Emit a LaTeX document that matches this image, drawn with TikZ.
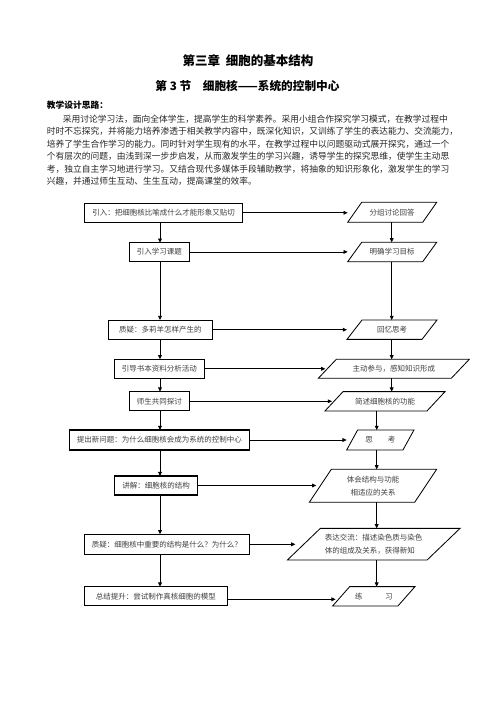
\documentclass[tikz,border=0pt]{standalone}
\usepackage{fontspec}
\setmainfont{Noto Sans CJK SC}
\usetikzlibrary{arrows.meta,calc}
\XeTeXlinebreaklocale "zh"
\XeTeXlinebreakskip=0pt plus 2pt minus 1pt
\newdimen\px \px=1.2pt
\newcommand\drawpara[2]{\draw[paraline] ([xshift=#2\px]#1.north west) -- (#1.north east) -- ([xshift=-#2\px]#1.south east) -- (#1.south west) -- cycle;}
\begin{document}
\begin{tikzpicture}[x=1.2pt,y=-1.2pt,
  box/.style={draw, line width=1.3pt, outer sep=0pt, inner sep=0pt, font=\fontsize{9pt}{11pt}\selectfont, text=black!75},
  para/.style={draw=none, outer sep=0pt, inner sep=0pt, font=\fontsize{9pt}{11pt}\selectfont, text=black!75},
  paraline/.style={line width=1pt, line join=miter},
  arr/.style={line width=0.9pt, -{Triangle[length=5pt,width=4.5pt]}},
  bodyline/.style={anchor=west, inner sep=0pt, font=\fontsize{10.5pt}{12pt}\selectfont, text=black!85}]
\useasboundingbox[fill=white] (0,0) rectangle (496,702);

% titles
\node[font=\fontsize{15pt}{18pt}\selectfont\bfseries] (T1) at (248,60.7) {第三章\hspace{0.45em}细胞的基本结构};
\node[font=\fontsize{14pt}{17pt}\selectfont\bfseries] (T2) at (247.5,86) {第 3 节\quad 细胞核——系统的控制中心};
\node[bodyline, font=\fontsize{10.5pt}{12pt}\selectfont\bfseries, text=black] (H) at (46.7,105) {教学设计思路：};

% body text
\node[bodyline] (L1) at (62.7,119) {\hbox to 386.6\px{采用讨论学习法，面向全体学生，提高学生的科学素养。采用小组合作探究学习模式，在教学过程中}};
\node[bodyline] (L2) at (46.7,131.5) {\hbox to 403.6\px{时时不忘探究，并将能力培养渗透于相关教学内容中，既深化知识，又训练了学生的表达能力、交流能力，}};
\node[bodyline] (L3) at (46.7,144) {\hbox to 402.6\px{培养了学生合作学习的能力。同时针对学生现有的水平，在教学过程中以问题驱动式展开探究，通过一个}};
\node[bodyline] (L4) at (46.7,156.5) {\hbox to 402.6\px{个有层次的问题，由浅到深一步步启发，从而激发学生的学习兴趣，诱导学生的探究思维，使学生主动思}};
\node[bodyline] (L5) at (46.7,169) {\hbox to 402.6\px{考，独立自主学习地进行学习。又结合现代多媒体手段辅助教学，将抽象的知识形象化，激发学生的学习}};
\node[bodyline] (L6) at (46.7,181.5) {兴趣，并通过师生互动、生生互动，提高课堂的效率。};

% left boxes
\node[box, minimum width=158.4\px, minimum height=19\px] (B1) at (163.5,212.8) {引入：把细胞核比喻成什么才能形象又贴切};
\node[box, minimum width=60\px, minimum height=18.3\px] (B2) at (159.3,251.9) {引入学习课题};
\node[box, minimum width=104\px, minimum height=19.3\px] (B3) at (160.3,329.7) {质疑：多莉羊怎样产生的};
\node[box, minimum width=90\px, minimum height=19\px] (B4) at (159.3,368.8) {引导书本资料分析活动};
\node[box, minimum width=60\px, minimum height=19.3\px] (B5) at (159.3,401.3) {师生共同探讨};
\node[box, minimum width=180\px, minimum height=20\px] (B6) at (159.3,440) {提出新问题：为什么细胞核会成为系统的控制中心};
\node[box, minimum width=83.4\px, minimum height=19\px] (B7) at (156,485.5) {讲解：细胞核的结构};
\node[box, minimum width=165\px, minimum height=20\px] (B8) at (166.8,544.3) {质疑：细胞核中重要的结构是什么？为什么？};
\node[box, minimum width=143\px, minimum height=19.3\px] (B9) at (155.8,596.3) {总结提升：尝试制作真核细胞的模型};

% right parallelograms
\node[para, minimum width=89\px, minimum height=20\px] (P1) at (392.2,212.3) {分组讨论回答};
\node[para, minimum width=89\px, minimum height=19.4\px] (P2) at (392.2,252) {明确学习目标};
\node[para, minimum width=90\px, minimum height=19.3\px] (P3) at (392,329.7) {回忆思考};
\node[para, minimum width=151\px, minimum height=19\px] (P4) at (393.8,368.8) {主动参与，感知知识形成};
\node[para, minimum width=120\px, minimum height=19.3\px] (P5) at (385,401.3) {简述细胞核的功能};
\node[para, minimum width=67.3\px, minimum height=20\px] (P6) at (380.3,440) {思　　考};
\node[para, minimum width=127.4\px, minimum height=33\px, align=center, font=\fontsize{9pt}{15.6pt}\selectfont] (P7) at (373,485.8) {体会结构与功能\\相适应的关系};
\node[para, minimum width=172.7\px, minimum height=31.7\px, align=left, font=\fontsize{9pt}{14.8pt}\selectfont] (P8) at (373.7,544.2) {表达交流：描述染色质与染色\\体的组成及关系，获得新知};
\node[para, minimum width=82.3\px, minimum height=19.3\px] (P9) at (373.8,596.3) {练　　　习};
\drawpara{P1}{14}
\drawpara{P2}{14}
\drawpara{P3}{15}
\drawpara{P4}{18}
\drawpara{P5}{18}
\drawpara{P6}{11}
\drawpara{P7}{22}
\drawpara{P8}{33}
\drawpara{P9}{17}

% spine coordinates
\coordinate (LS) at (160,0);
\coordinate (RS1) at (391.7,0);
\coordinate (RS2) at (376.7,0);

% left spine
\draw[arr] (B1.south -| LS) -- (B2.north -| LS);
\draw[arr] (B2.south -| LS) -- (B3.north -| LS);
\draw[arr] (B3.south -| LS) -- (B4.north -| LS);
\draw[arr] (B4.south -| LS) -- (B5.north -| LS);
\draw[arr] (B5.south -| LS) -- (B6.north -| LS);
\draw[arr] (B6.south -| LS) -- (B7.north -| LS);
\draw[arr] (B7.south -| LS) -- (B8.north -| LS);
\draw[arr] (B8.south -| LS) -- (B9.north -| LS);

% right spine
\draw[arr] (P1.south -| RS1) -- (P2.north -| RS1);
\draw[arr] (P2.south -| RS1) -- (P3.north -| RS1);
\draw[arr] (P3.south -| RS1) -- (P4.north -| RS1);
\draw[arr] (P4.south -| RS1) -- (P5.north -| RS1);
\draw[arr] (P5.south -| RS2) -- (P6.north -| RS2);
\draw[arr] (P6.south -| RS2) -- (P7.north -| RS2);
\draw[arr] (P7.south -| RS2) -- (P8.north -| RS2);
\draw[arr] (P8.south -| RS2) -- (P9.north -| RS2);

% arrow end points on parallelograms
\coordinate (E1) at (P1.west);
\coordinate (E2) at (P2.west);
\coordinate (E3) at (P3.west);
\coordinate (E4) at ([xshift=7\px]P4.west);
\coordinate (E5) at ([xshift=7\px]P5.west);
\coordinate (E6) at (P6.west);
\coordinate (E7) at ([xshift=7\px]P7.west);
\coordinate (E8) at ([xshift=8\px]P8.west);
\coordinate (E9) at ([xshift=3\px]P9.west);

% horizontal connectors
\draw[arr] (B1.east) -- (B1.east -| E1);
\draw[arr] (B2.east) -- (B2.east -| E2);
\draw[arr] (B3.east) -- (B3.east -| E3);
\draw[arr] (B4.east) -- (B4.east -| E4);
\draw[arr] (B5.east) -- (B5.east -| E5);
\draw[arr] (B6.east) -- (B6.east -| E6);
\draw[arr] (B7.east) -- (B7.east -| E7);
\draw[arr] (B8.east) -- (B8.east -| E8);
\draw[arr] ([yshift=-3\px]B9.east) -- ([yshift=-3\px]B9.east -| E9);
\end{tikzpicture}
\end{document}
